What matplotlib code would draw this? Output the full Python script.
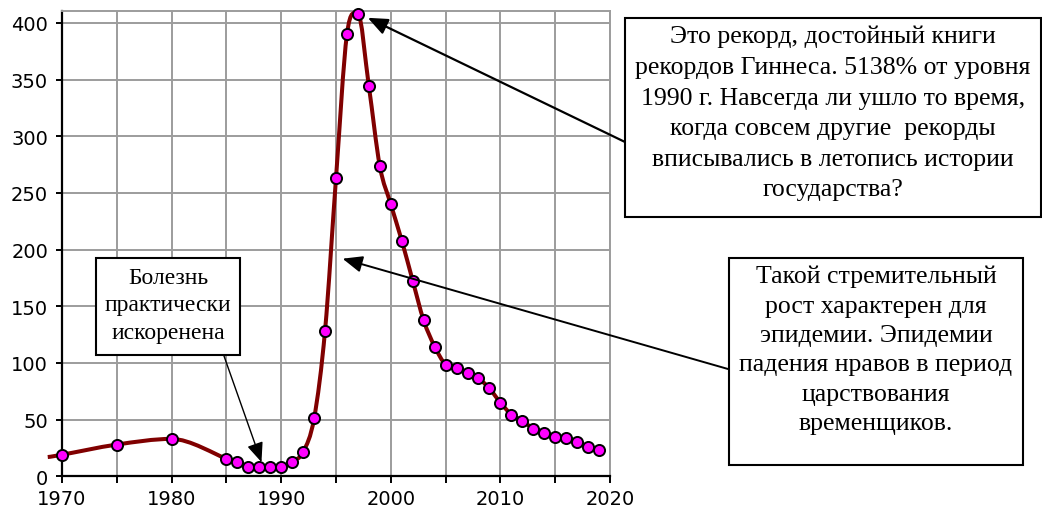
import matplotlib
matplotlib.use('Agg')
import matplotlib.pyplot as plt
from matplotlib.path import Path
from matplotlib.patches import PathPatch, Rectangle

# Данные
years = [1970, 1975, 1980, 1985, 1986, 1987, 1988, 1989, 1990, 1991, 1992, 1993,
         1994, 1995, 1996, 1997, 1998, 1999, 2000, 2001, 2002, 2003, 2004, 2005,
         2006, 2007, 2008, 2009, 2010, 2011, 2012, 2013, 2014, 2015, 2016, 2017,
         2018, 2019]
values = [19, 28, 33, 15.5, 12.5, 8.5, 8.5, 8.5, 8, 12.5, 21.5, 51,
          128.5, 263, 390, 408, 344, 273.5, 240, 208, 172.5, 137.5, 114.5, 98.5,
          95.5, 91.5, 86.5, 77.5, 65, 54.5, 49, 42, 38.5, 35, 33.5, 30,
          26, 23]
# начало линии слева от оси (без маркера)
lead_year = 1968.7
lead_value = 17

text_record = ["Это рекорд, достойный книги", "рекордов Гиннеса. 5138% от уровня",
               "1990 г. Навсегда ли ушло то время,", "когда совсем другие  рекорды",
               "вписывались в летопись истории", "государства?"]
text_epidemic = ["Такой стремительный", "рост характерен для", "эпидемии. Эпидемии",
                 "падения нравов в период", "царствования", "временщиков."]
text_disease = ["Болезнь", "практически", "искоренена"]


def smooth_path(x, y):
    # сглаженная линия (кривые Безье), без выбросов в экстремумах
    n = len(x)
    tx, ty = [], []
    for i in range(n):
        a = max(i - 1, 0)
        b = min(i + 1, n - 1)
        dx = (x[b] - x[a]) / 6
        dy = (y[b] - y[a]) / 6
        if 0 < i < n - 1 and (y[i] - y[a]) * (y[b] - y[i]) <= 0:
            dy = 0
        tx.append(dx)
        ty.append(dy)
    verts = [(x[0], y[0])]
    codes = [Path.MOVETO]
    for i in range(n - 1):
        verts += [(x[i] + tx[i], y[i] + ty[i]),
                  (x[i + 1] - tx[i + 1], y[i + 1] - ty[i + 1]),
                  (x[i + 1], y[i + 1])]
        codes += [Path.CURVE4] * 3
    return Path(verts, codes)


W, H = 1042, 510
fig = plt.figure(figsize=(W / 100, H / 100), dpi=100)
ax = fig.add_axes([62 / W, 1 - 477.3 / H, (610 - 62) / W, (477.3 - 12) / H])

grid_color = '#9c9c9c'
line_x = [lead_year] + years
line_y = [lead_value] + values
ax.add_patch(PathPatch(smooth_path(line_x, line_y), facecolor='none',
                       edgecolor='#800000', lw=2.9, clip_on=False, zorder=3))
ax.plot(years, values, linestyle='none', marker='o', markersize=8,
        markerfacecolor='#ff00ff', markeredgecolor='black', markeredgewidth=1.4,
        zorder=4, clip_on=False)

ax.set_xlim(1970, 2020)
ax.set_ylim(0, 410.5)
ax.set_xticks(range(1970, 2021, 5))
ax.set_xticklabels([str(y) if y % 10 == 0 else '' for y in range(1970, 2021, 5)])
ax.set_yticks(range(0, 401, 50))
ax.grid(True, color=grid_color, lw=1.4)
ax.set_axisbelow(True)
for s in ['left', 'bottom']:
    ax.spines[s].set_color('black')
    ax.spines[s].set_linewidth(1.6)
for s in ['top', 'right']:
    ax.spines[s].set_color(grid_color)
    ax.spines[s].set_linewidth(1.4)
ax.tick_params(axis='x', direction='out', length=5, width=1.4,
               labelsize=14, pad=4)
ax.tick_params(axis='y', direction='out', length=4, width=1.4,
               labelsize=14, pad=6)
for lab in ax.get_xticklabels() + ax.get_yticklabels():
    lab.set_fontfamily('DejaVu Sans')

# рамки с текстом (пиксели рисунка): рамка, первая базовая линия, шаг строк
boxes = [
    (625, 19, 1041, 218, text_record, 18.5, 43.5, 30.6),
    (729, 259, 1023, 466, text_epidemic, 18.5, 283.5, 29.3),
    (96, 259, 240, 356, text_disease, 17.0, 283.5, 28.0),
]
for x0, y0, x1, y1, lines, fs, base, step in boxes:
    fig.add_artist(Rectangle((x0 / W, 1 - y1 / H), (x1 - x0) / W, (y1 - y0) / H,
                             transform=fig.transFigure, facecolor='white',
                             edgecolor='black', lw=1.5, zorder=5))
    for k, line in enumerate(lines):
        fig.text((x0 + x1) / 2 / W, 1 - (base + k * step) / H, line,
                 ha='center', va='baseline', fontsize=fs,
                 family='Liberation Serif', zorder=6)

# стрелки
arrows = [
    ((1997.9, 404.5), (625, H - 143), 1.6),
    ((1995.6, 192), (728, H - 370), 1.4),
    ((1988.2, 12.5), (224, H - 357), 1.0),
]
for tip, start, lw in arrows:
    ax.annotate('', xy=tip, xycoords='data', xytext=start,
                textcoords='figure pixels',
                arrowprops=dict(arrowstyle='-|>,head_length=0.6,head_width=0.25',
                                mutation_scale=20, color='black', lw=lw,
                                shrinkA=0, shrinkB=0), zorder=7)

fig.savefig('out.png', dpi=100)
